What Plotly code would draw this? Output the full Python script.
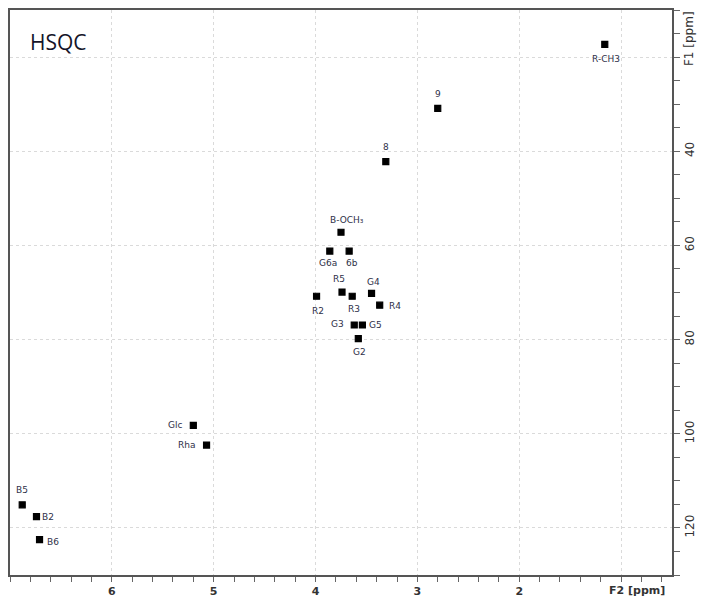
import plotly.graph_objects as go

# ---- data ----
peak_labels = ["R-CH3", "9", "8", "B-OCH₃", "G6a", "6b", "R5", "R3", "R2", "G4",
               "R4", "G3", "G5", "G2", "Glc", "Rha", "B5", "B2", "B6"]
f2_ppm = [1.16, 2.80, 3.31, 3.75, 3.86, 3.67, 3.74, 3.64, 3.99, 3.45,
          3.37, 3.62, 3.54, 3.58, 5.20, 5.07, 6.88, 6.74, 6.71]
f1_ppm = [17.3, 30.9, 42.2, 57.2, 61.2, 61.2, 69.9, 70.8, 70.8, 70.2,
          72.7, 76.9, 76.9, 79.8, 98.2, 102.4, 115.1, 117.6, 122.5]

x_tick_vals = [6, 5, 4, 3, 2, 1]
x_tick_text = ["6", "5", "4", "3", "2", ""]
y_tick_vals = [20, 40, 60, 80, 100, 120]
y_tick_text = ["", "40", "60", "80", "100", "120"]

# ---- label placement (pixel offsets: right, down) ----
label_offsets = [(1, 15), (0, -14), (0, -15), (6, -12), (-2, 12), (3, 12),
                 (-3, -13), (2, 13), (1, 15), (2, -11), (15, 1), (-17, -1),
                 (13, 0), (1, 13), (-18, 0), (-20, 0), (0, -15), (12, 0), (13, 2)]

fig = go.Figure()
fig.add_trace(go.Scatter(
    x=f2_ppm, y=f1_ppm, mode="markers",
    marker=dict(symbol="square", size=6, color="black",
                line=dict(color="black", width=1.2)),
    hoverinfo="skip", showlegend=False))

for name, xv, yv, (dx, dy) in zip(peak_labels, f2_ppm, f1_ppm, label_offsets):
    fig.add_annotation(x=xv, y=yv, xref="x", yref="y", text=name, showarrow=False,
                       xshift=dx, yshift=-dy,
                       font=dict(family="DejaVu Sans", size=9, color="#2e3048"))

fig.add_annotation(x=0.074, y=0.943, xref="paper", yref="paper", text="HSQC",
                   showarrow=False, xanchor="center", yanchor="middle",
                   font=dict(family="Open Sans", size=21, color="#141428"))
fig.add_annotation(x=0.844, y=-0.028, xref="x", yref="paper", text="F2 [ppm]",
                   showarrow=False, xanchor="center", yanchor="middle",
                   font=dict(family="DejaVu Sans", size=11, color="#333333", weight="bold"))
fig.add_annotation(x=1.0254, y=16, xref="paper", yref="y", text="F1 [ppm]",
                   showarrow=False, textangle=-90, xanchor="center", yanchor="middle",
                   font=dict(family="DejaVu Sans", size=12, color="#333333"))

axis_line = dict(showline=True, linecolor="#555555", linewidth=1.5, mirror=True)
fig.update_xaxes(range=[7.0, 0.5], tickvals=x_tick_vals, ticktext=x_tick_text,
                 ticks="outside", ticklen=5, tickcolor="#666666", tickwidth=1,
                 tickfont=dict(family="DejaVu Sans", size=11, color="#333333", weight="bold"),
                 showgrid=True, gridcolor="#dadada", griddash="dot", gridwidth=1,
                 minor=dict(dtick=0.2, tick0=0, ticks="outside", ticklen=5,
                            tickcolor="#666666", showgrid=False),
                 zeroline=False, **axis_line)
fig.update_yaxes(range=[130, 10], side="right", tickvals=y_tick_vals, ticktext=y_tick_text,
                 ticks="outside", ticklen=6, tickcolor="#666666", tickwidth=1,
                 tickangle=-90,
                 tickfont=dict(family="DejaVu Sans", size=12, color="#333333"),
                 showgrid=True, gridcolor="#dadada", griddash="dot", gridwidth=1,
                 minor=dict(dtick=5, tick0=0, ticks="outside", ticklen=6,
                            tickcolor="#666666", showgrid=False),
                 zeroline=False, **axis_line)

fig.update_layout(width=705, height=606, autosize=False,
                  margin=dict(l=8, r=28, t=10, b=23),
                  paper_bgcolor="white", plot_bgcolor="white")

fig.write_html("out.html")
